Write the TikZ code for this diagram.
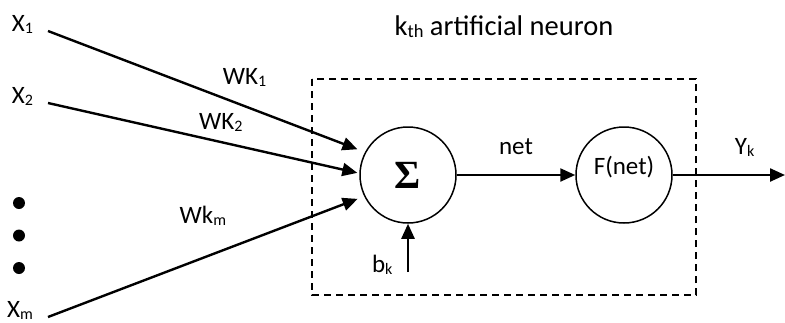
\documentclass[tikz,border=0pt]{standalone}
\usepackage{fontspec}
\setmainfont{Carlito}
\newfontfamily\sigmafont{Liberation Serif}
\usetikzlibrary{positioning, arrows.meta, calc}

\newcommand\subtext[2][16]{\raisebox{-2pt}{\fontsize{#1}{#1}\selectfont #2}}

\tikzset{
	neuron/.style = {draw, circle, line width=1.5pt, minimum size=96pt, inner sep=0pt},
	input/.style = {inner xsep=15pt, inner ysep=0pt, outer sep=0pt, anchor=base east},
	link/.style = {line width=2.4pt, -{Triangle[length=15pt, width=13pt]}},
	weight/.style = {anchor=base},
	dot/.style = {circle, fill, minimum size=12pt, inner sep=0pt}
}

\begin{document}
\begin{tikzpicture}[x=1pt, y=-1pt, font=\fontsize{25}{30}\selectfont]
		\useasboundingbox (0,0) rectangle (785,322);
		
		% neuron
		\node[neuron, font=\sigmafont\bfseries\fontsize{40}{40}\selectfont] (sum) at (408,175) {Σ};
		\node[neuron, right of=sum, node distance=216pt, label={[anchor=base, yshift=8pt]center:F(net)}] (act) {};
		\draw[dashed, line width=1.4pt, dash pattern=on 7pt off 5pt] ($(sum)+(-96,-96)$) rectangle ($(act)+(72,120)$);
		\node[anchor=base, font=\fontsize{28.5}{32}\selectfont] (title) at (504,35) {k\subtext[18.5]{th} artificial neuron};
		
		% inputs
		\node[input] (x1) at (48,31) {X\subtext{1}};
		\node[input] (x2) at (48,103) {X\subtext{2}};
		\node[input] (xm) at (48,317) {X\subtext{m}};
		\node[dot] (dot1) at (19,203) {};
		\node[dot, below of=dot1, node distance=32.5pt] (dot2) {};
		\node[dot, below of=dot2, node distance=32.5pt] (dot3) {};
		
		% bias and output
		\node[anchor=base east] (bias) at (396,272) {b\subtext{k}};
		\coordinate (out) at (785,175);
		
		% connections
		\draw[link, shorten >=8pt] (x1.base east) -- (sum.152) node[weight, pos=0.62, yshift=22pt] {WK\subtext{1}};
		\draw[link, shorten >=2pt] (x2.base east) -- (sum.178) node[weight, pos=0.555, yshift=13pt] {WK\subtext{2}};
		\draw[link, shorten >=7pt] (xm.base east) -- (sum.206) node[weight, pos=0.49, yshift=34pt] {Wk\subtext{m}};
		\draw[link] (bias.base east -| sum) -- (sum);
		\draw[link] (sum) -- (act) node[midway, above=16pt] {net};
		\draw[link] (act) -- (out) node[pos=0.64, above=14pt] {Y\subtext{k}};
		
	\end{tikzpicture}
\end{document}
